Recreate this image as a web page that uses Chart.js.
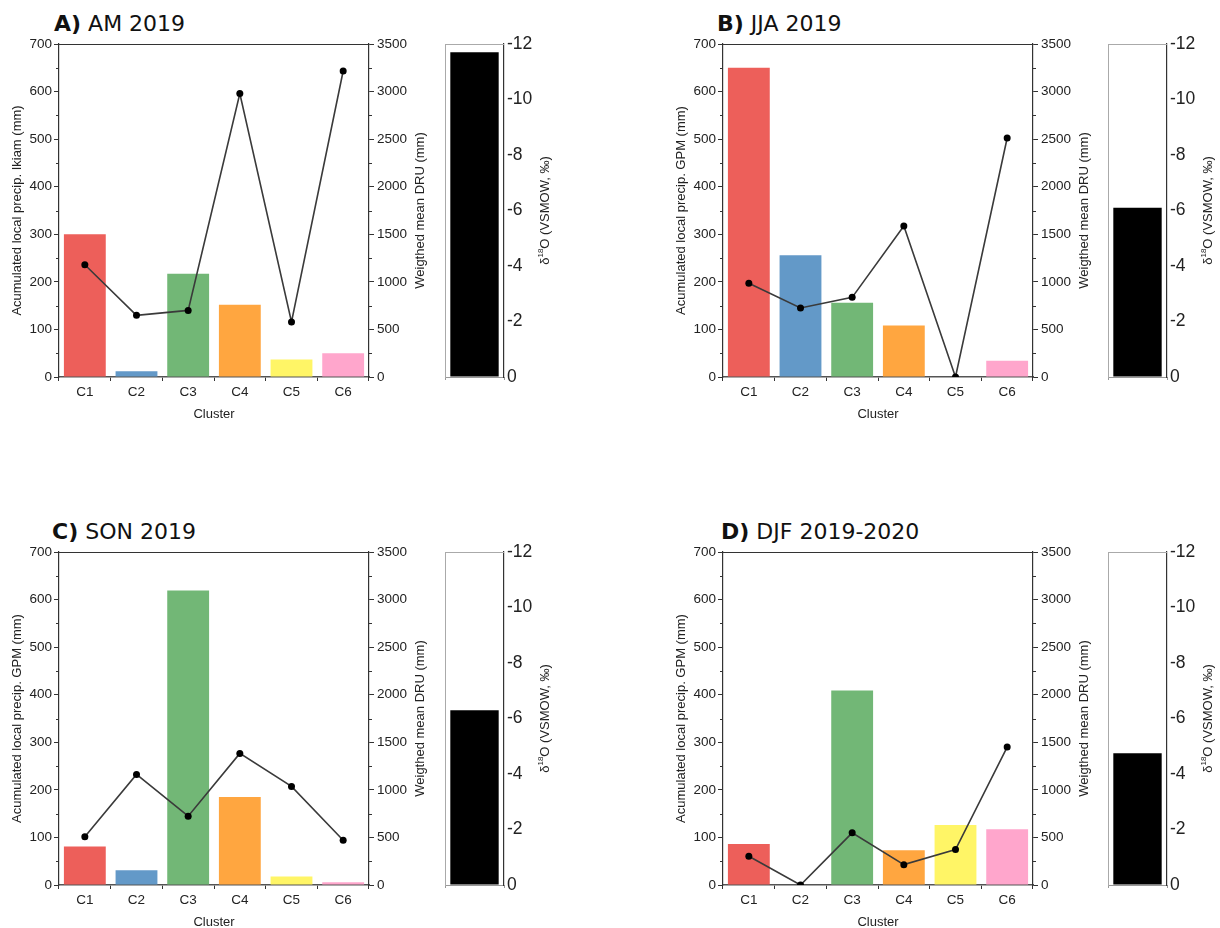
<!DOCTYPE html>
<html>
<head>
<meta charset="utf-8">
<script src="https://cdn.jsdelivr.net/npm/chart.js@4.4.0/dist/chart.umd.min.js"></script>
<style>
  html, body { margin: 0; padding: 0; background: #fff; }
  body { width: 1220px; height: 928px; position: relative; overflow: hidden; }
  canvas { position: absolute; }
  .ttl { position: absolute; font-family: "DejaVu Sans", sans-serif; font-size: 22px; line-height: 22px; color: #111; white-space: pre; }
  .ttl b { font-weight: bold; }
</style>
</head>
<body>
<div class="ttl" style="left:54px; top:13px;"><b>A)</b> AM 2019</div>
<div class="ttl" style="left:717px; top:13px;"><b>B)</b> JJA 2019</div>
<div class="ttl" style="left:52px; top:521px;"><b>C)</b> SON 2019</div>
<div class="ttl" style="left:721px; top:521px;"><b>D)</b> DJF 2019-2020</div>

<canvas id="mainA" width="427" height="426" style="left:5px; top:0px;"></canvas>
<canvas id="deltaA" width="121" height="400" style="left:436px; top:0px;"></canvas>
<canvas id="mainB" width="427" height="426" style="left:669px; top:0px;"></canvas>
<canvas id="deltaB" width="121" height="400" style="left:1099px; top:0px;"></canvas>
<canvas id="mainC" width="427" height="426" style="left:5px; top:508px;"></canvas>
<canvas id="deltaC" width="121" height="400" style="left:436px; top:508px;"></canvas>
<canvas id="mainD" width="427" height="426" style="left:669px; top:508px;"></canvas>
<canvas id="deltaD" width="121" height="400" style="left:1099px; top:508px;"></canvas>

<script>
// Cluster categories on the x axis
const clusters = ['C1', 'C2', 'C3', 'C4', 'C5', 'C6'];

// AM 2019 (local precipitation at Ikiam)
const amPrecip = [300, 12, 217, 152, 37, 50];
const amDru    = [1180, 648, 700, 2980, 578, 3216];
const amDelta  = [-11.7];

// JJA 2019 (GPM)
const jjaPrecip = [650, 256, 156, 108, 0, 34];
const jjaDru    = [985, 725, 837, 1587, 0, 2512];
const jjaDelta  = [-6.1];

// SON 2019 (GPM)
const sonPrecip = [81, 31, 619, 185, 18, 6];
const sonDru    = [506, 1162, 723, 1383, 1036, 470];
const sonDelta  = [-6.3];

// DJF 2019-2020 (GPM)
const djfPrecip = [86, 0, 409, 73, 126, 117];
const djfDru    = [302, 0, 548, 214, 372, 1450];
const djfDelta  = [-4.75];

// Axis tick labels
const precipTicks = [0, 100, 200, 300, 400, 500, 600, 700];
const druTicks    = [0, 500, 1000, 1500, 2000, 2500, 3000, 3500];
const deltaTicks  = [-12, -10, -8, -6, -4, -2, 0];

// One colour per cluster
const clusterColors = ['#ED5F5A', '#6399C8', '#72B776', '#FFA640', '#FFF566', '#FFA6CC'];

const FONT = '"Liberation Sans", Arial, sans-serif';
const TEXT = '#222';
const plainLabel = v => String(v);

// Short unlabeled ticks halfway between the labeled ones, plus the frame's top edge
function frameAndMinorTicks(scaleIds, topColor) {
  return {
    id: 'frameAndMinorTicks',
    afterDraw(chart) {
      const ctx = chart.ctx;
      const a = chart.chartArea;
      ctx.save();
      ctx.lineWidth = 1;
      ctx.strokeStyle = '#333';
      scaleIds.forEach(id => {
        const s = chart.scales[id];
        const vals = s.ticks.map(t => t.value);
        for (let i = 0; i < vals.length - 1; i++) {
          const py = Math.round(s.getPixelForValue((vals[i] + vals[i + 1]) / 2)) + 0.5;
          const x0 = s.position === 'left' ? a.left : a.right;
          const x1 = s.position === 'left' ? a.left - 3 : a.right + 3;
          ctx.beginPath(); ctx.moveTo(x0, py); ctx.lineTo(x1, py); ctx.stroke();
        }
      });
      ctx.strokeStyle = topColor;
      ctx.beginPath(); ctx.moveTo(a.left, Math.round(a.top) + 0.5); ctx.lineTo(a.right, Math.round(a.top) + 0.5); ctx.stroke();
      ctx.restore();
    }
  };
}

// Right-side axis title read from bottom to top; parts allow a superscript
function rightTitle(scaleId, offset, parts, size) {
  return {
    id: 'rightTitle',
    afterDraw(chart) {
      const s = chart.scales[scaleId];
      const a = chart.chartArea;
      const ctx = chart.ctx;
      ctx.save();
      ctx.translate(s.right - offset, (a.top + a.bottom) / 2);
      ctx.rotate(-Math.PI / 2);
      ctx.fillStyle = TEXT;
      ctx.textBaseline = 'middle';
      const fontFor = p => (p.sup ? size * 0.62 : size) + 'px ' + FONT;
      let total = 0;
      const widths = parts.map(p => { ctx.font = fontFor(p); const w = ctx.measureText(p.text).width; total += w; return w; });
      let x = -total / 2;
      parts.forEach((p, i) => {
        ctx.font = fontFor(p);
        ctx.fillText(p.text, x, p.sup ? -size * 0.36 : 0);
        x += widths[i];
      });
      ctx.restore();
    }
  };
}

function fixedTicks(list) {
  return scale => { scale.ticks = list.map(v => ({ value: v })); };
}

function mainChart(id, precip, dru, leftTitle) {
  new Chart(document.getElementById(id), {
    data: {
      labels: clusters,
      datasets: [
        {
          type: 'line', data: dru, yAxisID: 'y2', order: 0,
          borderColor: '#3a3a3a', borderWidth: 1.6, tension: 0,
          pointRadius: 3.5, pointBackgroundColor: '#000', pointBorderColor: '#000', pointBorderWidth: 0
        },
        {
          type: 'bar', data: precip, yAxisID: 'y', order: 1,
          backgroundColor: clusterColors, borderWidth: 0,
          barPercentage: 0.81, categoryPercentage: 1
        }
      ]
    },
    options: {
      responsive: false, animation: false, devicePixelRatio: 1,
      layout: { padding: { top: 44, left: 0, right: 0, bottom: 0 } },
      plugins: { legend: { display: false }, tooltip: { enabled: false } },
      scales: {
        x: {
          grid: { drawOnChartArea: false, tickLength: 4, color: '#333', tickWidth: 1 },
          border: { color: '#555', width: 1.6 },
          ticks: { font: { family: FONT, size: 13.5 }, color: TEXT, padding: 3 },
          title: { display: true, text: 'Cluster', font: { family: FONT, size: 13 }, color: TEXT, padding: { top: 2, bottom: 4 } },
          afterFit: s => { s.height = 49; }
        },
        y: {
          position: 'left', min: 0, max: 700,
          afterBuildTicks: fixedTicks(precipTicks),
          grid: { drawOnChartArea: false, tickLength: 5, color: '#333' },
          border: { color: '#333', width: 1.2 },
          ticks: { font: { family: FONT, size: 13.5 }, color: TEXT, padding: 2, callback: plainLabel },
          title: { display: true, text: leftTitle, font: { family: FONT, size: 13 }, color: TEXT, padding: 5 },
          afterFit: s => { s.width = 54; }
        },
        y2: {
          position: 'right', min: 0, max: 3500,
          afterBuildTicks: fixedTicks(druTicks),
          grid: { drawOnChartArea: false, tickLength: 5, color: '#333' },
          border: { color: '#333', width: 1.2 },
          ticks: { font: { family: FONT, size: 13.5 }, color: TEXT, padding: 3, callback: plainLabel },
          afterFit: s => { s.width = 63; }
        }
      }
    },
    plugins: [
      frameAndMinorTicks(['y', 'y2'], '#333'),
      rightTitle('y2', 12, [{ text: 'Weigthed mean DRU (mm)' }], 13)
    ]
  });
}

function deltaChart(id, delta) {
  new Chart(document.getElementById(id), {
    type: 'bar',
    data: {
      labels: [''],
      datasets: [{ data: delta, yAxisID: 'y', backgroundColor: '#000', borderWidth: 0, barPercentage: 0.82, categoryPercentage: 1 }]
    },
    options: {
      responsive: false, animation: false, devicePixelRatio: 1,
      layout: { padding: { top: 44, left: 0, right: 0, bottom: 0 } },
      plugins: { legend: { display: false }, tooltip: { enabled: false } },
      scales: {
        x: {
          grid: { drawOnChartArea: false, tickLength: 3, color: '#999' },
          border: { color: '#999', width: 1 },
          ticks: { display: false },
          afterFit: s => { s.height = 23; }
        },
        yl: {
          axis: 'y', position: 'left', min: -12, max: 0, reverse: true,
          grid: { display: false },
          border: { color: '#aaa', width: 1 },
          ticks: { display: false },
          afterFit: s => { s.width = 9; }
        },
        y: {
          position: 'right', min: -12, max: 0, reverse: true,
          afterBuildTicks: fixedTicks(deltaTicks),
          grid: { drawOnChartArea: false, drawTicks: false },
          border: { color: '#333', width: 1.2 },
          ticks: { font: { family: FONT, size: 17.5 }, color: TEXT, padding: 3, callback: plainLabel },
          afterFit: s => { s.width = 53; }
        }
      }
    },
    plugins: [
      frameAndMinorTicks([], '#aaa'),
      rightTitle('y', 12, [{ text: 'δ' }, { text: '18', sup: true }, { text: 'O (VSMOW, ‰)' }], 13)
    ]
  });
}

mainChart('mainA', amPrecip, amDru, 'Acumulated local precip. Ikiam (mm)');
deltaChart('deltaA', amDelta);
mainChart('mainB', jjaPrecip, jjaDru, 'Acumulated local precip. GPM (mm)');
deltaChart('deltaB', jjaDelta);
mainChart('mainC', sonPrecip, sonDru, 'Acumulated local precip. GPM (mm)');
deltaChart('deltaC', sonDelta);
mainChart('mainD', djfPrecip, djfDru, 'Acumulated local precip. GPM (mm)');
deltaChart('deltaD', djfDelta);
</script>
</body>
</html>
